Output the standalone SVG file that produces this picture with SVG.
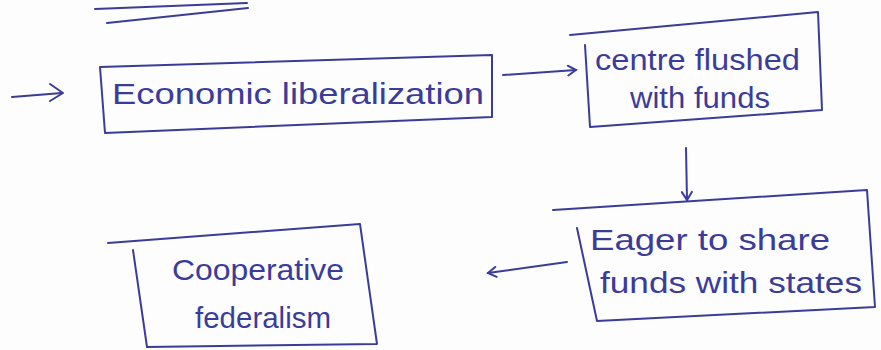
<svg xmlns="http://www.w3.org/2000/svg" width="881" height="350" viewBox="0 0 881 350">
  <style>
    .ink { fill: none; stroke: #3b3c9a; stroke-width: 2; stroke-linecap: round; stroke-linejoin: round; }
    .label { font-family: "Liberation Sans", Arial, sans-serif; font-size: 30px; fill: #3b3c9a; }
  </style>
  <defs>
    <marker id="head" viewBox="0 0 12 12" refX="10" refY="6" markerWidth="12" markerHeight="12" markerUnits="userSpaceOnUse" orient="auto">
      <path d="M2,1 L10,6 L2,11" fill="none" stroke="#3b3c9a" stroke-width="2" stroke-linecap="round"/>
    </marker>
  </defs>
  <rect width="881" height="350" fill="#fdfdfd"/>

  <!-- title underline -->
  <g id="underline">
    <path class="ink" d="M95,9 L247,3"/>
    <path class="ink" d="M107,23 L248,8"/>
  </g>

  <g id="connectors">
    <path class="ink" d="M12,97 L62,93" stroke-width="3.5"/>
    <path class="ink" d="M50,84 L63,93 L50,101"/>
    <path class="ink" d="M503,75 L576,70" marker-end="url(#head)"/>
    <path class="ink" d="M686,148 L687,200" marker-end="url(#head)"/>
    <path class="ink" d="M567,262 L488,273" marker-end="url(#head)"/>
  </g>

  <g id="node-economic-liberalization">
    <path class="ink" d="M100,67 L492,55 L492,117 L105,133 Z"/>
    <text class="label" x="112" y="104" textLength="372" lengthAdjust="spacingAndGlyphs">Economic liberalization</text>
  </g>

  <g id="node-centre-flushed">
    <path class="ink" d="M570,35 L818,12 L822,110 L590,127 L585,45"/>
    <text class="label" x="595" y="70" textLength="205" lengthAdjust="spacingAndGlyphs">centre flushed</text>
    <text class="label" x="630" y="108" textLength="140" lengthAdjust="spacingAndGlyphs">with funds</text>
  </g>

  <g id="node-eager-to-share">
    <path class="ink" d="M553,210 L867,190 L875,307 L597,321 L577,228"/>
    <text class="label" x="590" y="250" textLength="240" lengthAdjust="spacingAndGlyphs">Eager to share</text>
    <text class="label" x="600" y="293" textLength="262" lengthAdjust="spacingAndGlyphs">funds with states</text>
  </g>

  <g id="node-cooperative-federalism">
    <path class="ink" d="M108,243 L360,224 L377,344 L147,347 L133,250"/>
    <text class="label" x="172" y="280" textLength="172" lengthAdjust="spacingAndGlyphs">Cooperative</text>
    <text class="label" x="195" y="328" textLength="136" lengthAdjust="spacingAndGlyphs">federalism</text>
  </g>
</svg>
